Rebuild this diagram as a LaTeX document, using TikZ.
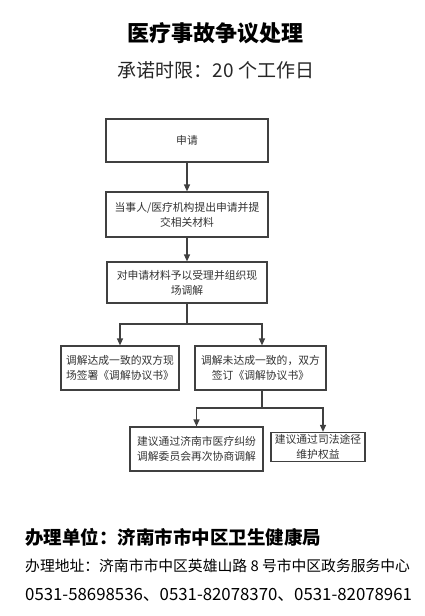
\documentclass[tikz,border=0pt]{standalone}
\usepackage{fontspec}
\setmainfont{Noto Sans CJK SC}
\usetikzlibrary{arrows.meta}
\definecolor{linegray}{HTML}{404040}
\definecolor{txtgray}{HTML}{333333}
\tikzset{
  box/.style={draw=linegray, line width=1.2pt, fill=white, align=center, inner sep=2pt,
    font=\fontsize{10.8}{15}\selectfont, text=txtgray},
  conn/.style={draw=linegray, line width=1.2pt},
  arr/.style={conn, -{Triangle[length=7pt,width=6pt]}},
}
\begin{document}
\begin{tikzpicture}[x=1pt,y=-1pt]
\useasboundingbox (0,0) rectangle (424,616);
\node[font=\fontsize{22}{26}\selectfont\bfseries] (title) at (215,33) {医疗事故争议处理};
\node[font=\fontsize{19}{23}\selectfont, text=black!85] (sub) at (216,70) {承诺时限：20 个工作日};

\node[box, minimum width=162, minimum height=43] (b1) at (187,140.5) {申请};
\node[box, minimum width=162, minimum height=45] (b2) at (187,214.5) {当事人/医疗机构提出申请并提\\交相关材料};
\node[box, minimum width=160, minimum height=41] (b3) at (187,282.5) {对申请材料予以受理并组织现\\场调解};
\node[box, minimum width=118, minimum height=44] (b4) at (120,368) {调解达成一致的双方现\\场签署《调解协议书》};
\node[box, minimum width=131, minimum height=44] (b5) at (260.5,368) {调解未达成一致的，双方\\签订《调解协议书》};
\node[box, minimum width=133, minimum height=44] (b6) at (196.5,449) {建议通过济南市医疗纠纷\\调解委员会再次协商调解};
\node[box, minimum width=94, minimum height=28] (b7) at (318,447) {建议通过司法途径\\维护权益};

\draw[arr] (b1) -- (b2);
\draw[arr] (b2) -- (b3);
\draw[conn] (b3.south) -- (b3.south |- 0,324) coordinate (j1);
\draw[arr] (j1) -| (b4.north);
\draw[arr] (j1) -| ([xshift=1.5pt]b5.north);
\draw[conn] ([xshift=1.5pt]b5.south) -- ([xshift=1.5pt]b5.south |- 0,408) coordinate (j2);
\draw[arr] (j2) -| (b6.north);
\draw[arr] (j2) -| ([xshift=5pt]b7.north);

\node[anchor=west, font=\fontsize{18.5}{22}\selectfont\bfseries, inner sep=0pt] (unit) at (25,537) {办理单位：济南市市中区卫生健康局};
\node[anchor=west, font=\fontsize{14.8}{18}\selectfont, inner sep=0pt] (addr) at (25,566) {办理地址：济南市市中区英雄山路 8 号市中区政务服务中心};
\node[anchor=west, font=\fontsize{16.8}{20}\selectfont, inner sep=0pt] (tel) at (25,595) {0531-58698536、0531-82078370、0531-82078961};
\end{tikzpicture}
\end{document}
